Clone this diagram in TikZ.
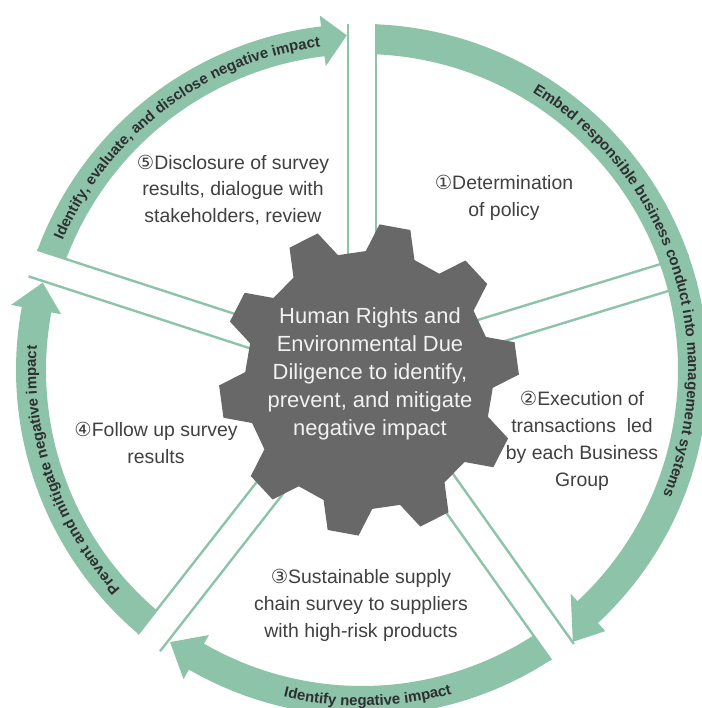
\documentclass[tikz,border=0pt]{standalone}
\usepackage{fontspec}
\setmainfont{Liberation Sans}
\newfontfamily\circfont{DejaVu Sans}
\usepackage{tikz}
\usetikzlibrary{calc, decorations.text}
\definecolor{CycleGreen}{HTML}{8DC4A9}
\definecolor{GearGray}{HTML}{686868}
\definecolor{BodyText}{HTML}{404040}
\definecolor{ArcText}{HTML}{2F2F2F}
\definecolor{GearText}{HTML}{F2F2F2}
\newcommand{\arcfont}{\fontsize{15}{15}\selectfont\bfseries}

\begin{document}
\begin{tikzpicture}[x=1bp, y=1bp,
    steptext/.style={color=BodyText, align=center, font=\fontsize{19.5}{27}\selectfont, inner sep=0pt},
    gaplines/.style={color=CycleGreen, line width=2.4bp},
    bandfill/.style={fill=CycleGreen},
    arctext/.style={decorate, decoration={text along path, text align=center, text color=ArcText, text={|\arcfont|#1}}}]
    \useasboundingbox (0,0) rectangle (702,708);
    \clip (0,0) rectangle (702,708);

    % Outer cycle
    \begin{scope}[shift={(362,338)}]
        % Gaps between the steps
        \foreach \ang in {90, 17, -54.6, -128, 162}
            \draw[gaplines, rotate=\ang] (60,14) -- (346,14) (60,-14) -- (346,-14);

        % Embed responsible business conduct
        \fill[bandfill] (87.6:316) arc[start angle=87.6, end angle=-47, radius=316] -- (-47:306) -- (-52.2:344) -- (-47:357) -- (-47:346) arc[start angle=-47, end angle=87.6, radius=346] -- cycle;
        % Identify negative impact
        \fill[bandfill] (-57:316) arc[start angle=-57, end angle=-120, radius=316] -- (-120:306) -- (-125.2:333) -- (-120:357) -- (-120:346) arc[start angle=-120, end angle=-57, radius=346] -- cycle;
        % Prevent and mitigate
        \fill[bandfill] (229.6:316) arc[start angle=229.6, end angle=169.5, radius=316] -- (169.5:306) -- (164.7:331) -- (169.5:357) -- (169.5:346) arc[start angle=169.5, end angle=229.6, radius=346] -- cycle;
        % Identify, evaluate, and disclose
        \fill[bandfill] (159.6:316) arc[start angle=159.6, end angle=96.8, radius=316] -- (96.8:306) -- (92.6:335) -- (96.8:357) -- (96.8:346) arc[start angle=96.8, end angle=159.6, radius=346] -- cycle;

        % Labels on the cycle
        \path[arctext={Embed responsible business conduct into management systems}] (62:326) arc[start angle=62, end angle=-26, radius=326];
        \path[arctext={Identify negative impact}] (-110:336) arc[start angle=-110, end angle=-68, radius=336];
        \path[arctext={Prevent and mitigate negative impact}] (226:326) arc[start angle=226, end angle=172, radius=326];
        \path[arctext={Identify, evaluate, and disclose negative impact}] (161:326) arc[start angle=161, end angle=93, radius=326];
    \end{scope}

    % Gear
    \begin{scope}[shift={(369,328)}, yscale=1.04]
        \fill[GearGray] (-3.5:124) \foreach \a in {8,44,...,332} { -- (\a-11.5:124) -- (\a-6:150) -- (\a+6:150) -- (\a+11.5:124) } -- cycle;
    \end{scope}
    \node[font=\fontsize{22}{28}\selectfont, color=GearText, align=center, inner sep=0pt] (hub) at (370,334) {Human Rights and\\Environmental Due\\Diligence to identify,\\prevent, and mitigate\\negative impact};

    % Steps
    \node[steptext] (policy) at (504,510) {{\circfont ①}Determination\\of policy};
    \node[steptext] (execution) at (582,267) {{\circfont ②}Execution of\\transactions\ \ led\\by each Business\\Group};
    \node[steptext] (survey) at (361,103) {{\circfont ③}Sustainable supply\\chain survey to suppliers\\with high-risk products};
    \node[steptext] (followup) at (156,265) {{\circfont ④}Follow up survey\\results};
    \node[steptext] (disclosure) at (233,518) {{\circfont ⑤}Disclosure of survey\\results, dialogue with\\stakeholders, review};
\end{tikzpicture}
\end{document}
